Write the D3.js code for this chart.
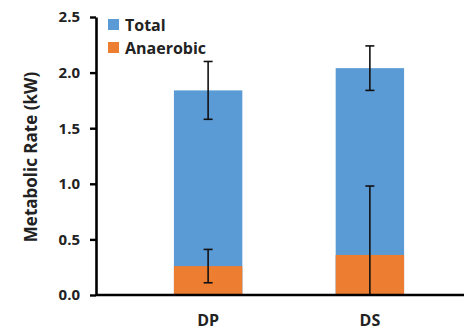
<!DOCTYPE html>
<html>
<head>
<meta charset="utf-8">
<script src="https://cdn.jsdelivr.net/npm/d3@7"></script>
<style>
  body { margin: 0; background: #fff; }
  text { font-family: "Open Sans", sans-serif; font-weight: bold; fill: #222; }
</style>
</head>
<body>
<svg id="chart"></svg>
<script>
// data
const categories = ["DP", "DS"];
const totalValues = [1.84, 2.04];
const totalErrors = [0.26, 0.20];
const anaerobicValues = [0.26, 0.36];
const anaerobicErrors = [0.15, 0.62];
const yTicks = [0, 0.5, 1.0, 1.5, 2.0, 2.5];
const seriesNames = ["Total", "Anaerobic"];
const seriesColors = ["#5b9bd5", "#ed7d31"];

const width = 464, height = 331;
const margin = {top: 17, right: 0, bottom: 36, left: 96};

const svg = d3.select("#chart")
    .attr("width", width)
    .attr("height", height);

const chart = svg.append("g")
    .attr("transform", `translate(${margin.left}, ${margin.top})`);

const inner_width = width - margin.left - margin.right;
const inner_height = height - margin.top - margin.bottom;

const yscale = d3.scaleLinear()
    .domain([0, 2.5])
    .range([inner_height, 0]);

const xscale = d3.scaleBand()
    .domain(categories)
    .range([31, 355])
    .paddingInner(0.577)
    .paddingOuter(0.29);

const rows = categories.map((c, i) => ({
    cat: c,
    total: totalValues[i], totalErr: totalErrors[i],
    anaer: anaerobicValues[i], anaerErr: anaerobicErrors[i]
}));

// bars
chart.selectAll("rect.total")
    .data(rows)
    .enter()
    .append("rect")
    .attr("class", "total")
    .attr("x", d => xscale(d.cat))
    .attr("width", xscale.bandwidth())
    .attr("y", d => yscale(d.total))
    .attr("height", d => yscale(0) - yscale(d.total))
    .attr("fill", seriesColors[0]);

chart.selectAll("rect.anaer")
    .data(rows)
    .enter()
    .append("rect")
    .attr("class", "anaer")
    .attr("x", d => xscale(d.cat))
    .attr("width", xscale.bandwidth())
    .attr("y", d => yscale(d.anaer))
    .attr("height", d => yscale(0) - yscale(d.anaer))
    .attr("fill", seriesColors[1]);

// error bars
const errs = [];
rows.forEach(d => {
    errs.push({cat: d.cat, v: d.total, e: d.totalErr});
    errs.push({cat: d.cat, v: d.anaer, e: d.anaerErr});
});

const capW = 4.5;
const eg = chart.selectAll("g.err")
    .data(errs)
    .enter()
    .append("g")
    .attr("class", "err")
    .attr("stroke", "#111")
    .attr("stroke-width", 1.6);

eg.append("line")
    .attr("x1", d => xscale(d.cat) + xscale.bandwidth() / 2)
    .attr("x2", d => xscale(d.cat) + xscale.bandwidth() / 2)
    .attr("y1", d => yscale(d.v + d.e))
    .attr("y2", d => yscale(Math.max(0, d.v - d.e)));

eg.append("line")
    .attr("x1", d => xscale(d.cat) + xscale.bandwidth() / 2 - capW)
    .attr("x2", d => xscale(d.cat) + xscale.bandwidth() / 2 + capW)
    .attr("y1", d => yscale(d.v + d.e))
    .attr("y2", d => yscale(d.v + d.e));

eg.filter(d => d.v - d.e > 0)
    .append("line")
    .attr("x1", d => xscale(d.cat) + xscale.bandwidth() / 2 - capW)
    .attr("x2", d => xscale(d.cat) + xscale.bandwidth() / 2 + capW)
    .attr("y1", d => yscale(d.v - d.e))
    .attr("y2", d => yscale(d.v - d.e));

// y axis
const yaxis = d3.axisLeft(yscale)
    .tickValues(yTicks)
    .tickFormat(d3.format(".1f"))
    .tickSizeInner(6)
    .tickSizeOuter(0)
    .tickPadding(10);

const yaxis_group = chart.append("g").call(yaxis);
yaxis_group.select(".domain").attr("stroke", "#000").attr("stroke-width", 2.6);
yaxis_group.selectAll(".tick line").attr("stroke", "#000").attr("stroke-width", 2.4);
yaxis_group.selectAll(".tick text")
    .attr("font-size", "15px")
    .attr("font-family", "Open Sans, sans-serif")
    .attr("font-weight", "bold")
    .attr("fill", "#222");

// x axis
const xaxis = d3.axisBottom(xscale).tickSize(0).tickPadding(20);
const xaxis_group = chart.append("g")
    .attr("transform", `translate(0, ${inner_height})`)
    .call(xaxis);
xaxis_group.select(".domain").remove();
xaxis_group.append("line")
    .attr("x1", 0).attr("x2", inner_width)
    .attr("stroke", "#000").attr("stroke-width", 2.6);
xaxis_group.selectAll(".tick text")
    .attr("font-size", "16px")
    .attr("font-family", "Open Sans, sans-serif")
    .attr("font-weight", "bold")
    .attr("fill", "#222");

// y label
svg.append("text")
    .attr("transform", `translate(37, 157) rotate(-90)`)
    .attr("text-anchor", "middle")
    .attr("font-size", "17px")
    .text("Metabolic Rate (kW)");

// legend
const legend = chart.selectAll("g.legend")
    .data(seriesNames)
    .enter()
    .append("g")
    .attr("class", "legend")
    .attr("transform", (d, i) => `translate(12, ${2 + i * 23})`);

legend.append("rect")
    .attr("width", 11).attr("height", 11)
    .attr("fill", (d, i) => seriesColors[i]);

legend.append("text")
    .attr("x", 17).attr("y", 6)
    .attr("dy", "0.35em")
    .attr("font-size", "16px")
    .text(d => d);
</script>
</body>
</html>
